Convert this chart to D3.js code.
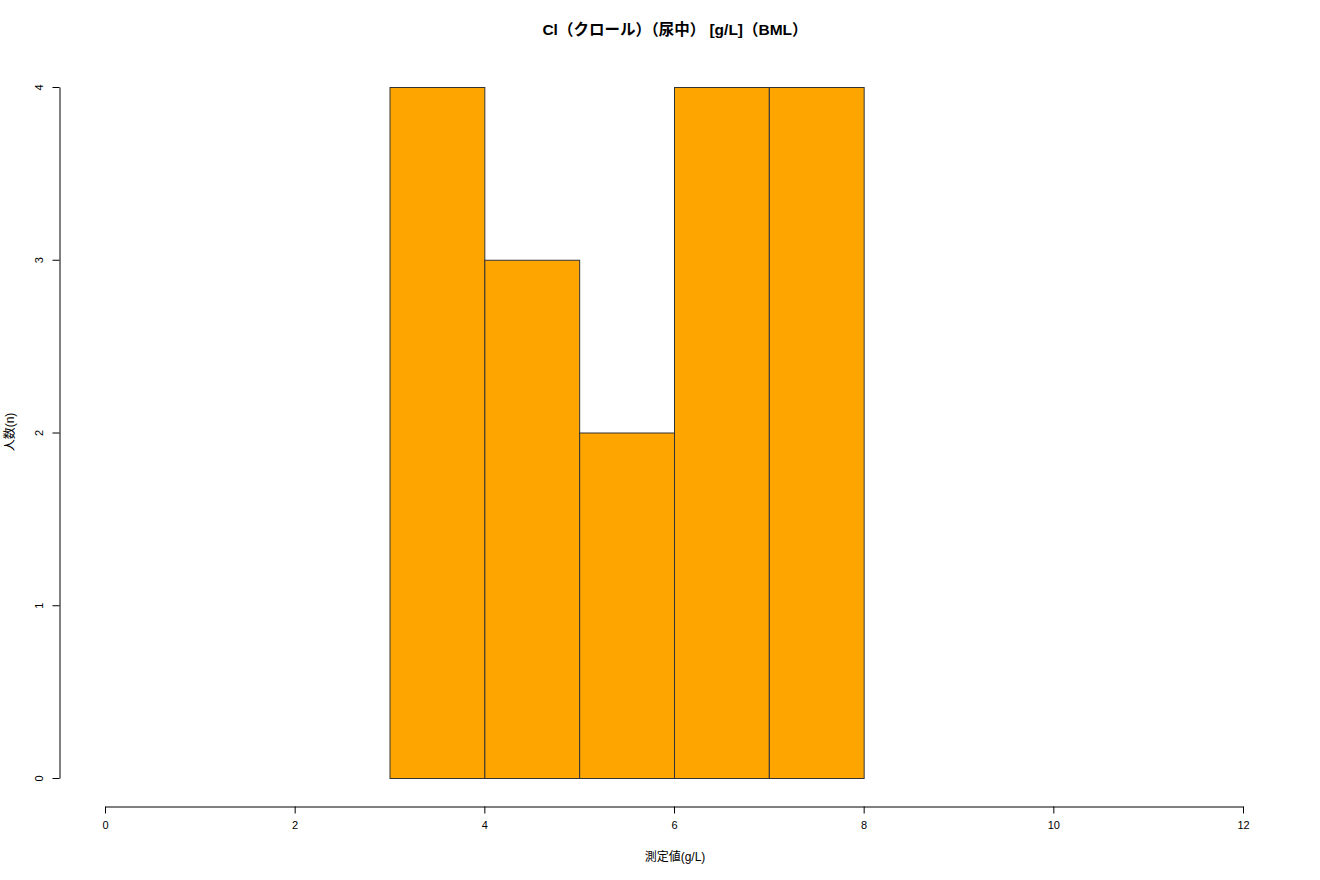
<!DOCTYPE html>
<html><head><meta charset="utf-8">
<script src="https://cdn.jsdelivr.net/npm/d3@7"></script>
<style>body{margin:0;background:#fff}svg{display:block}text{font-family:"Liberation Sans","Noto Sans CJK JP",sans-serif;fill:#000}</style>
</head><body>
<svg id="c" width="1320" height="880"></svg>
<script>
const binStarts = [3, 4, 5, 6, 7];
const binWidth = 1;
const counts = [4, 3, 2, 4, 4];
const xTicks = [0, 2, 4, 6, 8, 10, 12];
const yTicks = [0, 1, 2, 3, 4];
const title = "Cl（クロール）（尿中） [g/L]（BML）";
const xLabel = "測定値(g/L)";
const yLabel = "人数(n)";

const svg = d3.select("#c");
const x = d3.scaleLinear().domain([0, 12]).range([105, 1243]);
const y = d3.scaleLinear().domain([0, 4]).range([778, 87]);

svg.selectAll("rect.bar").data(binStarts).join("rect")
  .attr("class", "bar")
  .attr("x", d => x(d) + 0.5)
  .attr("y", (d, i) => y(counts[i]) + 0.5)
  .attr("width", d => x(d + binWidth) - x(d))
  .attr("height", (d, i) => y(0) - y(counts[i]))
  .attr("fill", "#FFA500").attr("stroke", "#333").attr("stroke-width", 1);

// x axis
const gx = svg.append("g").attr("transform", "translate(0,806.5)");
gx.call(d3.axisBottom(x).tickValues(xTicks).tickSize(7).tickPadding(8).tickSizeOuter(0).tickFormat(d3.format("d")));
gx.select(".domain").attr("stroke", "#000");
gx.selectAll("text").attr("font-size", 11).style("font-family", '"Liberation Sans",sans-serif');

// y axis
const gy = svg.append("g").attr("transform", "translate(59.5,0)");
gy.call(d3.axisLeft(y).tickValues(yTicks).tickSize(7).tickSizeOuter(0).tickFormat(d3.format("d")));
gy.select(".domain").attr("stroke", "#000");
gy.selectAll(".tick text").attr("font-size", 11).attr("x", 0).attr("dy", 0)
  .attr("text-anchor", "middle")
  .attr("transform", "translate(-17,0) rotate(-90)")
  .attr("y", 0).attr("dominant-baseline", "auto")
  .style("font-family", '"Liberation Sans",sans-serif');

svg.append("text").attr("x", 675).attr("y", 35).attr("text-anchor", "middle")
  .attr("font-size", 15.5).attr("font-weight", "bold").text(title);
svg.append("text").attr("x", 675).attr("y", 861).attr("text-anchor", "middle")
  .attr("font-size", 12).text(xLabel);
svg.append("text").attr("transform", "translate(14,432) rotate(-90)").attr("text-anchor", "middle")
  .attr("font-size", 12).text(yLabel);
</script>
</body></html>
